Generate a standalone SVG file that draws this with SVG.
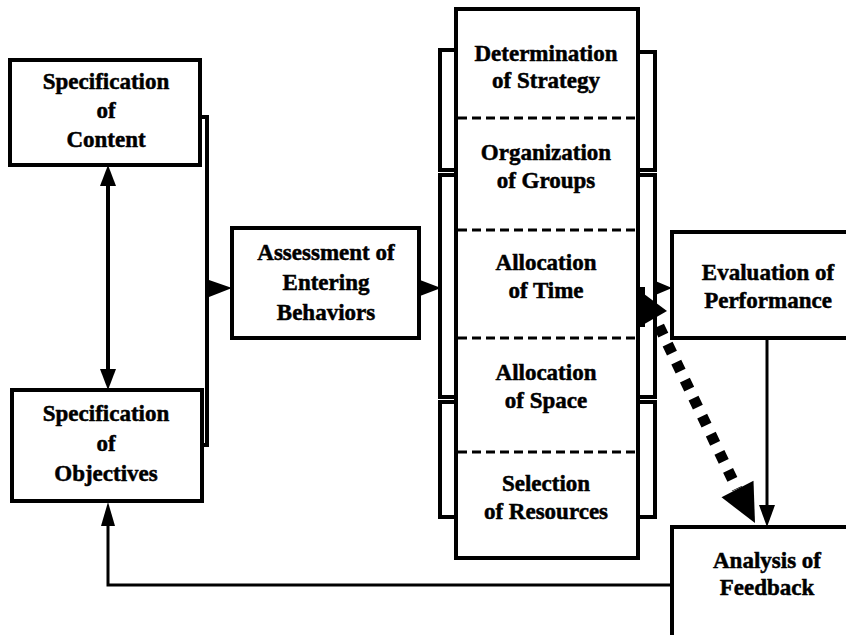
<svg xmlns="http://www.w3.org/2000/svg" width="846" height="635" viewBox="0 0 846 635">
<style>
.box{fill:#fff;stroke:#000;stroke-width:4}
.t{font-family:'Liberation Serif','Times New Roman',serif;font-weight:bold;font-size:23px;text-anchor:middle;fill:#000;stroke:#000;stroke-width:0.5}
.ln{fill:none;stroke:#000;stroke-width:4}
.thin{fill:none;stroke:#000;stroke-width:3}
.dash{fill:none;stroke:#000;stroke-width:3;stroke-dasharray:9 5}
.head{fill:#000;stroke:none}
</style>
<rect width="846" height="635" fill="#fff"/>

<g id="connectors">
  <line x1="108" y1="184" x2="108" y2="372" class="ln" stroke-width="5"/>
  <polygon class="head" points="108,165 100,186 116,186"/>
  <polygon class="head" points="108,390 100,369 116,369"/>
  <path class="ln" d="M200,117 H207 V445 H202"/>
  <line x1="207" y1="288" x2="215" y2="288" class="ln"/>
  <polygon class="head" points="209,280 232,288 209,297"/>
  <line x1="420" y1="288" x2="425" y2="288" class="ln"/>
  <polygon class="head" points="420,280 441,288 420,296"/>
  <path class="ln" d="M456,50 H440 V170 H456 M456,175 H440 V397 H456 M456,402 H440 V517 H456"/>
  <path class="ln" d="M638,52 H655 V170 H638 M638,175 H655 V397 H638 M638,402 H655 V517 H638"/>
  <polygon class="head" points="653,280 672,288 653,296"/>
  <line x1="767" y1="338" x2="767" y2="510" class="thin"/>
  <polygon class="head" points="767,527 759,505 775,505"/>
  <line x1="659" y1="326" x2="737" y2="489" stroke="#000" stroke-width="11" stroke-dasharray="10 10" fill="none"/>
  <polygon class="head" points="755,523 753.5,480.7 721.5,497.3"/>
  <polygon class="head" points="636,288 667,311 641,326"/>
  <rect x="633" y="287" width="12" height="40" fill="#000"/>
  <path class="thin" d="M672,585 H108 V520"/>
  <polygon class="head" points="108,502 101,526 115,526"/>
</g>

<g id="spec-content">
  <rect class="box" x="10" y="60" width="190" height="105"/>
  <text class="t" x="106" y="89">Specification</text>
  <text class="t" x="106" y="118">of</text>
  <text class="t" x="106" y="147">Content</text>
</g>

<g id="spec-objectives">
  <rect class="box" x="12" y="390" width="190" height="111"/>
  <text class="t" x="106" y="421">Specification</text>
  <text class="t" x="106" y="451">of</text>
  <text class="t" x="106" y="481">Objectives</text>
</g>

<g id="assessment">
  <rect class="box" x="232" y="228" width="187" height="110"/>
  <text class="t" x="326" y="260">Assessment of</text>
  <text class="t" x="326" y="290">Entering</text>
  <text class="t" x="326" y="320">Behaviors</text>
</g>

<g id="strategy-column">
  <rect class="box" x="456" y="9" width="182" height="549"/>
  <line class="dash" x1="458" y1="118" x2="640" y2="118"/>
  <line class="dash" x1="458" y1="230" x2="640" y2="230"/>
  <line class="dash" x1="458" y1="338" x2="640" y2="338"/>
  <line class="dash" x1="458" y1="452" x2="640" y2="452"/>
  <text class="t" x="546" y="61">Determination</text>
  <text class="t" x="546" y="88">of Strategy</text>
  <text class="t" x="546" y="160">Organization</text>
  <text class="t" x="546" y="188">of Groups</text>
  <text class="t" x="546" y="270">Allocation</text>
  <text class="t" x="546" y="298">of Time</text>
  <text class="t" x="546" y="380">Allocation</text>
  <text class="t" x="546" y="408">of Space</text>
  <text class="t" x="546" y="491">Selection</text>
  <text class="t" x="546" y="519">of Resources</text>
</g>

<g id="evaluation">
  <rect class="box" x="672" y="232" width="190" height="106"/>
  <text class="t" x="768" y="280">Evaluation of</text>
  <text class="t" x="768" y="308">Performance</text>
</g>

<g id="analysis">
  <rect class="box" x="672" y="527" width="190" height="120"/>
  <text class="t" x="767" y="568">Analysis of</text>
  <text class="t" x="767" y="595">Feedback</text>
</g>
</svg>
